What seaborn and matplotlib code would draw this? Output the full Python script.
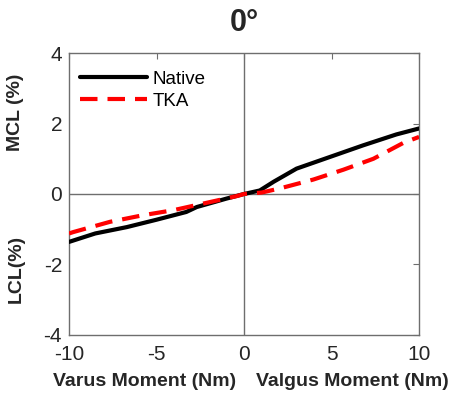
import matplotlib
matplotlib.use("Agg")
import matplotlib.pyplot as plt
import seaborn as sns
import pandas as pd

# Ligament strain vs. applied varus/valgus moment at 0° flexion
moment_native = [-10, -8.5, -6.7, -5.0, -3.3, -2.7, -1.0, 0.0, 0.9, 1.7, 3.0, 4.9, 6.8, 8.7, 10]
strain_native = [-1.36, -1.12, -0.94, -0.73, -0.51, -0.37, -0.13, 0.0, 0.10, 0.35, 0.72, 1.05, 1.38, 1.69, 1.86]

moment_tka = [-10, -9.75, -7.66, -5.75, -4.04, -2.32, -0.42, 0.0, 1.0, 2.06, 3.96, 5.68, 7.39, 9.1, 10]
strain_tka = [-1.12, -1.08, -0.79, -0.60, -0.46, -0.27, -0.06, 0.0, 0.04, 0.16, 0.41, 0.69, 1.00, 1.45, 1.62]

groups = ["Native", "TKA"]
colors = {"Native": "#000000", "TKA": "#ff0000"}

df = pd.concat([
    pd.DataFrame({"moment": moment_native, "strain": strain_native, "group": groups[0]}),
    pd.DataFrame({"moment": moment_tka, "strain": strain_tka, "group": groups[1]}),
])

sns.set_theme(style="white")
plt.rcParams["font.family"] = ["Liberation Sans", "DejaVu Sans"]
plt.rcParams["axes.unicode_minus"] = False

fig = plt.figure(figsize=(4.57, 4.05), dpi=100)
ax = fig.add_axes([0.151, 0.173, 0.766, 0.696])

ax.axhline(0, color="#6e6e6e", lw=1.0, zorder=1)
ax.axvline(0, color="#6e6e6e", lw=1.0, zorder=1)

sns.lineplot(data=df, x="moment", y="strain", hue="group", style="group",
             palette=colors, dashes={"Native": "", "TKA": (4.2, 2.4)},
             linewidth=3.0, ax=ax, sort=True, estimator=None, zorder=3)

ax.set_xlim(-10, 10)
ax.set_ylim(-4, 4)
ax.set_xticks([-10, -5, 0, 5, 10])
ax.set_yticks([-4, -2, 0, 2, 4])
ax.tick_params(direction="in", length=4, width=0.8, color="#6e6e6e",
               labelsize=15, labelcolor="#262626", top=True, right=True)
ax.tick_params(axis="x", pad=7)
ax.tick_params(axis="y", pad=5)
for s in ax.spines.values():
    s.set_color("#6e6e6e")
    s.set_linewidth(1.0)
ax.set_xlabel("")
ax.set_ylabel("")
ax.set_title("0°", fontsize=22, fontweight="bold", pad=16)

leg = ax.legend(loc="upper left", bbox_to_anchor=(-0.02, 1.0), frameon=False,
                fontsize=13.5, handlelength=3.6, borderaxespad=0.65, borderpad=0.3,
                labelspacing=0.25, handletextpad=0.3)
for t in leg.get_texts():
    t.set_color("#000000")

fig.text(0.317, 0.059, "Varus Moment (Nm)", ha="center", va="center",
         fontsize=14, fontweight="bold", color="#262626")
fig.text(0.770, 0.059, "Valgus Moment (Nm)", ha="center", va="center",
         fontsize=14, fontweight="bold", color="#262626")
fig.text(0.035, 0.723, "MCL (%)", ha="center", va="center", rotation=90,
         fontsize=14, fontweight="bold", color="#262626")
fig.text(0.035, 0.336, "LCL(%)", ha="center", va="center", rotation=90,
         fontsize=14, fontweight="bold", color="#262626")

fig.savefig("out.png", dpi=100)
